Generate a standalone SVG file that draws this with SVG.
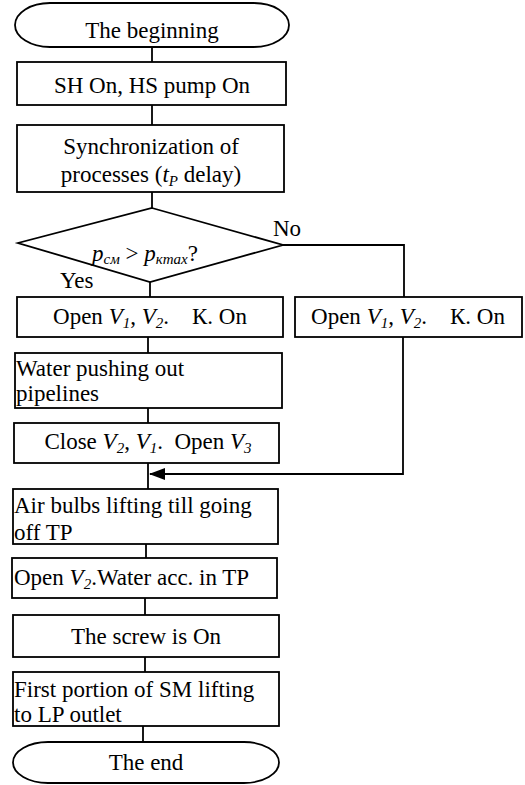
<svg xmlns="http://www.w3.org/2000/svg" width="525" height="785" viewBox="0 0 525 785" font-family="'Liberation Serif', 'Times New Roman', Times, 'Nimbus Roman', 'DejaVu Serif', serif">
<style>
.s{fill:#fff;stroke:#000;stroke-width:1.8}
.c{fill:none;stroke:#000;stroke-width:1.8}
text{font-family:'Liberation Serif','Times New Roman',Times,'Nimbus Roman','DejaVu Serif',serif;font-size:23px;fill:#000}
.m{text-anchor:middle}
.i{font-style:italic}
.sub{font-size:15px;font-style:italic}
</style>
<defs>
<marker id="ah" markerWidth="16" markerHeight="12" refX="15" refY="6" orient="auto" markerUnits="userSpaceOnUse">
<path d="M0,0 L16,6 L0,12 Z" fill="#000"/>
</marker>
</defs>
<rect width="525" height="785" fill="#fff"/>
<g id="connectors">
<path class="c" d="M152,47 V62"/>
<path class="c" d="M152,105 V125"/>
<path class="c" d="M152,192 V208"/>
<path class="c" d="M150,282 V297"/>
<path class="c" d="M283,245 H404 V297"/>
<path class="c" d="M148,337 V353"/>
<path class="c" d="M148,408 V423"/>
<path class="c" d="M148,463 V489"/>
<path class="c" d="M403,337 V474 H150" marker-end="url(#ah)"/>
<path class="c" d="M146,544 V558"/>
<path class="c" d="M145,598 V615"/>
<path class="c" d="M145,657 V672"/>
<path class="c" d="M143,726 V742"/>
</g>
<g id="start">
<path class="s" d="M50,3 H254 A35 22 0 0 1 254,47 H50 A35 22 0 0 1 50,3 Z"/>
<text class="m" x="152" y="38">The beginning</text>
</g>
<g id="sh">
<rect class="s" x="17" y="62" width="269" height="43"/>
<text class="m" x="152" y="93">SH On, HS pump On</text>
</g>
<g id="sync">
<rect class="s" x="17" y="125" width="267" height="67"/>
<text class="m" x="151" y="154">Synchronization of</text>
<text class="m" x="151" y="182">processes (<tspan class="i">t</tspan><tspan class="sub" dy="4">P</tspan><tspan dy="-4">  delay)</tspan></text>
</g>
<g id="decision">
<path class="s" d="M152,208 L283,245 L150,282 L18,243 Z"/>
<text x="92" y="261"><tspan class="i">p</tspan><tspan class="sub" dy="3">см</tspan><tspan dy="-3"> &gt; </tspan><tspan class="i">p</tspan><tspan class="sub" dy="3">кmax</tspan><tspan dy="-3">?</tspan></text>
<text x="273" y="236">No</text>
<rect x="58" y="268" width="38" height="22" fill="#fff"/>
<text x="60" y="288">Yes</text>
</g>
<g id="open-left">
<rect class="s" x="17" y="297" width="266" height="40"/>
<text class="m" x="150" y="324" xml:space="preserve">Open <tspan class="i">V</tspan><tspan class="sub" dy="4">1</tspan><tspan dy="-4">, </tspan><tspan class="i">V</tspan><tspan class="sub" dy="4">2</tspan><tspan dy="-4">.    К. On</tspan></text>
</g>
<g id="open-right">
<rect class="s" x="295" y="297" width="227" height="40"/>
<text class="m" x="408" y="324" xml:space="preserve">Open <tspan class="i">V</tspan><tspan class="sub" dy="4">1</tspan><tspan dy="-4">, </tspan><tspan class="i">V</tspan><tspan class="sub" dy="4">2</tspan><tspan dy="-4">.    К. On</tspan></text>
</g>
<g id="water">
<rect class="s" x="15" y="353" width="267" height="55"/>
<text x="16" y="376">Water pushing out</text>
<text x="16" y="401">pipelines</text>
</g>
<g id="close">
<rect class="s" x="14" y="423" width="265" height="40"/>
<text class="m" x="148" y="449" xml:space="preserve">Close <tspan class="i">V</tspan><tspan class="sub" dy="4">2</tspan><tspan dy="-4">, </tspan><tspan class="i">V</tspan><tspan class="sub" dy="4">1</tspan><tspan dy="-4">.  Open </tspan><tspan class="i">V</tspan><tspan class="sub" dy="4">3</tspan></text>
</g>
<g id="air">
<rect class="s" x="13" y="489" width="265" height="55"/>
<text x="14" y="513">Air bulbs lifting till going</text>
<text x="14" y="540">off TP</text>
</g>
<g id="openv2">
<rect class="s" x="12" y="558" width="265" height="40"/>
<text x="14" y="585"><tspan>Open </tspan><tspan class="i">V</tspan><tspan class="sub" dy="4">2</tspan><tspan dy="-4">.Water acc. in TP</tspan></text>
</g>
<g id="screw">
<rect class="s" x="13" y="615" width="266" height="42"/>
<text class="m" x="146" y="644">The screw is On</text>
</g>
<g id="portion">
<rect class="s" x="13" y="672" width="266" height="54"/>
<text x="14" y="697">First portion of SM lifting</text>
<text x="14" y="722">to LP outlet</text>
</g>
<g id="end">
<path class="s" d="M48,742 H244 A35 20.5 0 0 1 244,783 H48 A35 20.5 0 0 1 48,742 Z"/>
<text class="m" x="146" y="770">The end</text>
</g>
</svg>
